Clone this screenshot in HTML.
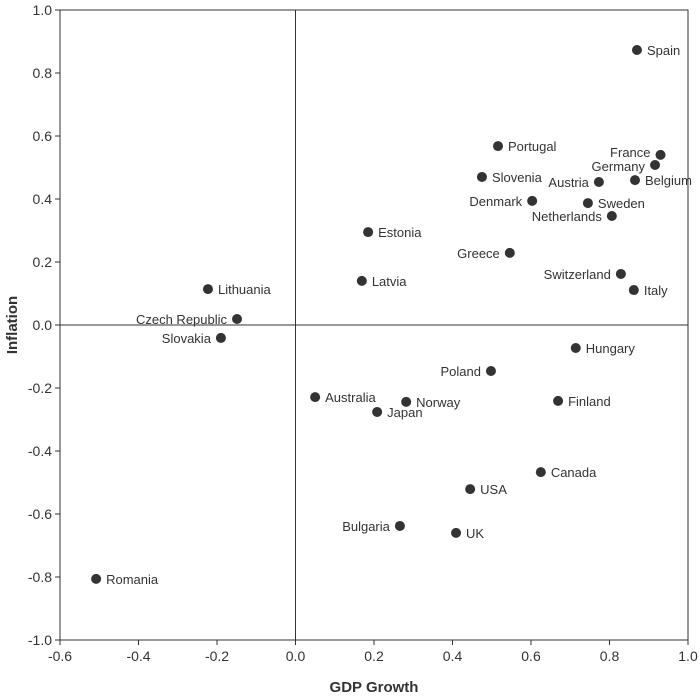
<!DOCTYPE html>
<html><head><meta charset="utf-8"><style>
body{margin:0;background:#fff}
svg{font-family:"Liberation Sans",sans-serif}
</style></head><body>
<svg id="c" width="700" height="695"></svg>
<script>
const countries=["Spain","France","Germany","Belgium","Austria","Portugal","Slovenia","Denmark","Sweden","Netherlands","Estonia","Greece","Switzerland","Italy","Latvia","Lithuania","Czech Republic","Slovakia","Hungary","Poland","Australia","Norway","Japan","Finland","Canada","USA","Bulgaria","UK","Romania"];
const gdp=[0.87,0.93,0.916,0.865,0.773,0.516,0.475,0.603,0.745,0.806,0.185,0.546,0.829,0.862,0.169,-0.223,-0.149,-0.19,0.714,0.498,0.05,0.282,0.208,0.669,0.625,0.445,0.266,0.409,-0.508];
const inflation=[0.873,0.54,0.508,0.46,0.454,0.568,0.47,0.394,0.387,0.346,0.295,0.229,0.162,0.111,0.14,0.114,0.019,-0.041,-0.073,-0.146,-0.229,-0.244,-0.276,-0.241,-0.467,-0.521,-0.638,-0.66,-0.806];
const leftLabel=["France","Germany","Austria","Denmark","Netherlands","Greece","Switzerland","Czech Republic","Slovakia","Poland","Bulgaria"];
const xTicks=[-0.6,-0.4,-0.2,0.0,0.2,0.4,0.6,0.8,1.0];
const yTicks=[1.0,0.8,0.6,0.4,0.2,0.0,-0.2,-0.4,-0.6,-0.8,-1.0];
const L=60,R=688,T=10,B=640;
const X=v=>L+(v+0.6)/1.6*(R-L);
const Y=v=>T+(1-v)/2*(B-T);
const svg=document.getElementById('c');const NS='http://www.w3.org/2000/svg';
function mk(t,a,p){const e=document.createElementNS(NS,t);for(const k in a)e.setAttribute(k,a[k]);(p||svg).appendChild(e);return e;}
const f=v=>v.toFixed(1);
let e=mk('rect',{x:L,y:T,width:R-L,height:B-T,fill:'none',stroke:'#333','stroke-width':1});


e=mk('line',{x1:X(0),x2:X(0),y1:T,y2:B,stroke:'#333'});


e=mk('line',{x1:L,x2:R,y1:Y(0),y2:Y(0),stroke:'#333'});


xTicks.forEach(v=>{
 let l=mk('line',{x1:X(v),x2:X(v),y1:B,y2:B+5,stroke:'#333'});
 
 
 let t=mk('text',{x:X(v),y:B+21,'text-anchor':'middle','font-size':14,fill:'#333'});t.textContent=f(v);
 
 
});
yTicks.forEach(v=>{
 let l=mk('line',{x1:L-5,x2:L,y1:Y(v),y2:Y(v),stroke:'#333'});
 
 
 let t=mk('text',{x:L-8,y:Y(v)+5,'text-anchor':'end','font-size':14,fill:'#333'});t.textContent=f(v);
 
 
});
e=mk('text',{x:(L+R)/2,y:692,'text-anchor':'middle','font-size':15,'font-weight':'bold',fill:'#333'});e.textContent='GDP Growth';


e=mk('text',{x:0,y:0,transform:`translate(17,${(T+B)/2}) rotate(-90)`,'text-anchor':'middle','font-size':15,'font-weight':'bold',fill:'#333'});e.textContent='Inflation';


countries.forEach((c,i)=>{
 const cx=X(gdp[i]),cy=Y(inflation[i]);
 let p=mk('circle',{cx,cy,r:5,fill:'#333'});
 
 
 const left=leftLabel.includes(c);
 let dy=5; if(c==='Germany')dy=6; if(c==='France')dy=2;
 let t=mk('text',{x:left?cx-10:cx+10,y:cy+dy,'text-anchor':left?'end':'start','font-size':13,fill:'#333'});
 t.textContent=c;
 
 
});
</script>
</body></html>
